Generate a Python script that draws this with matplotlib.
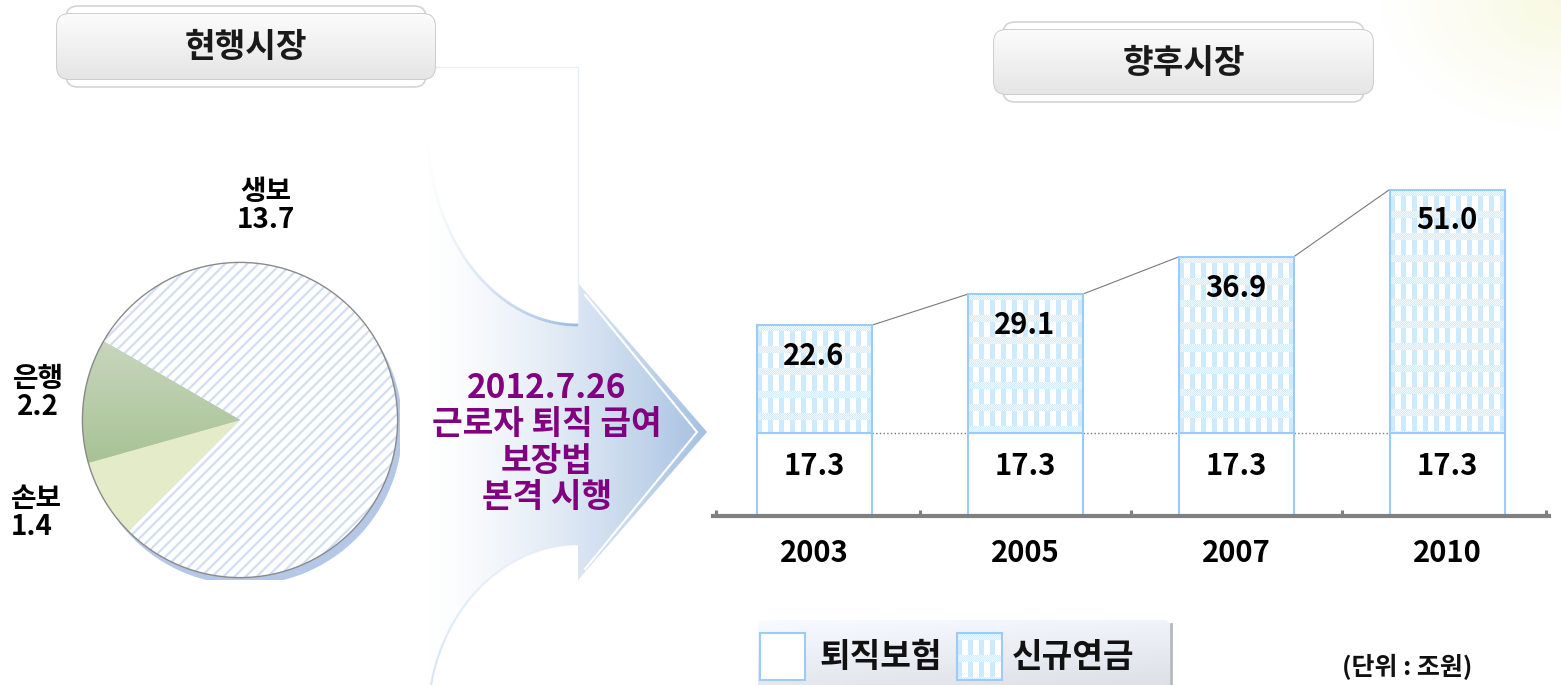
import numpy as np
import matplotlib
matplotlib.use('Agg')
import matplotlib.pyplot as plt
from matplotlib.patches import Circle, Rectangle, FancyBboxPatch, PathPatch
from matplotlib.path import Path
from matplotlib.collections import LineCollection

plt.rcParams['font.family'] = ['Noto Sans CJK KR', 'DejaVu Sans']
plt.rcParams['font.weight'] = 'bold'
plt.rcParams['hatch.color'] = '#d2def2'
plt.rcParams['hatch.linewidth'] = 1.6

# 현행시장 (조원)
pie_labels = ['생보', '은행', '손보']
pie_values = [13.7, 2.2, 1.4]

# 향후시장 (조원)
years = ['2003', '2005', '2007', '2010']
retire_ins = [17.3, 17.3, 17.3, 17.3]      # 퇴직보험
new_pension = [22.6, 29.1, 36.9, 51.0]     # 신규연금

legend_labels = ['퇴직보험', '신규연금']
law_text = ['2012.7.26', '근로자 퇴직 급여', '보장법', '본격 시행']

W, H = 1561, 685
BLUE_EDGE = '#9ccbf8'


def gingham(h, w):
    # 체크무늬 (세로 줄 + 가로 띠)
    yy, xx = np.mgrid[0:h, 0:w]
    stripe = (xx % 11) < 5
    band = (yy % 22) < 7
    fine = (xx + yy) % 2 == 0
    v = np.where(band, np.where(fine, 0.85, 0.25), stripe * 0.95)
    blue = np.array([0.80, 0.915, 0.995])
    return 1 - v[..., None] * (1 - blue)


fig = plt.figure(figsize=(W / 100, H / 100), dpi=100)

# ---- background layer, pixel coordinates
bg = fig.add_axes([0, 0, 1, 1])
bg.axis('off')

# faint glow, top right
yy, xx = np.mgrid[0:130, 0:181]
d = np.hypot((180 - xx) / 181, yy / 130)
glow = np.zeros((130, 181, 4))
glow[..., :3] = [0.97, 0.97, 0.86]
glow[..., 3] = np.clip(1 - d, 0, 1) * 0.8
bg.imshow(glow, extent=(1380, 1561, 130, 0), zorder=0)


def title_box(x0, x1, y0, y1, text):
    back = FancyBboxPatch((x0 + 9, y0 - 8), x1 - x0 - 18, y1 - y0 + 16,
                          boxstyle='round,pad=0,rounding_size=12',
                          fc='white', ec='#d4d4d4', lw=1.2, zorder=1)
    bg.add_patch(back)
    front = FancyBboxPatch((x0, y0), x1 - x0, y1 - y0,
                           boxstyle='round,pad=0,rounding_size=12',
                           fc='#eeeeee', ec='#c4c4c4', lw=1.2, zorder=2)
    bg.add_patch(front)
    g = np.linspace(0.985, 0.9, 50)[:, None, None] * np.ones((50, 2, 3))
    im = bg.imshow(g, extent=(x0, x1, y1, y0), aspect='auto', zorder=2.5)
    im.set_clip_path(front)
    bg.text((x0 + x1) / 2, (y0 + y1) / 2 + 1, text, ha='center', va='center',
            fontsize=24, fontweight='bold', color='#1a1a1a', zorder=3)


title_box(57, 435, 14, 79, '현행시장')
title_box(994, 1373, 30, 94, '향후시장')

# big arrow in the middle
t = np.linspace(0, np.pi / 2, 80)
top_curve = np.column_stack([578 - 150 * np.cos(t), 130 + 195 * np.sin(t)])
bot_curve = np.column_stack([578 - 150 * np.sin(t), 720 - 175 * np.cos(t)])
head = np.array([[578, 283], [707, 432], [578, 580]])
verts = np.vstack([top_curve, head, bot_curve, [[428, 130]]])
codes = [Path.MOVETO] + [Path.LINETO] * (len(verts) - 2) + [Path.CLOSEPOLY]
arrow = PathPatch(Path(verts, codes), fc='none', ec='none', zorder=1)
bg.add_patch(arrow)
gx = np.linspace(0, 1, 300) ** 1.5
c0 = np.array([1.0, 1.0, 1.0])
c1 = np.array([0.64, 0.75, 0.88])
grad = (c0 * (1 - gx[:, None]) + c1 * gx[:, None])[None, :, :]
im = bg.imshow(grad, extent=(420, 710, 730, 100), aspect='auto', zorder=1)
im.set_clip_path(arrow)

segs = np.stack([top_curve[:-1], top_curve[1:]], axis=1)
alphas = np.linspace(0, 1, len(segs)) ** 2
cols = [(0.60, 0.73, 0.88, a) for a in alphas]
bg.add_collection(LineCollection(segs, colors=cols, linewidths=2, zorder=1.5))
segs = np.stack([bot_curve[:-1], bot_curve[1:]], axis=1)
alphas = np.linspace(0.1, 0.9, len(segs))
cols = [(0.80, 0.87, 0.95, a) for a in alphas]
bg.add_collection(LineCollection(segs, colors=cols, linewidths=1.5, zorder=1.5))
bg.plot([430, 578, 578], [67, 67, 322], color='#e8eef7', lw=1, zorder=1.5)
bg.plot([585, 697, 585], [295, 432, 569], color='white', lw=1.5, zorder=1.6)
bg.text(547, 443, '\n'.join(law_text), ha='center', va='center',
        fontsize=24, fontweight='bold', color='#800080', linespacing=1.12,
        zorder=3)

# legend
leg_box = FancyBboxPatch((758, 620), 412, 80, boxstyle='round,pad=0,rounding_size=6',
                         fc='none', ec='none', zorder=1)
bg.add_patch(leg_box)
lg = np.linspace(0.97, 0.89, 60)[:, None] * np.ones((60, 100))
lg = lg - np.linspace(0, 0.03, 100)[None, :]
lg_rgb = np.stack([lg, lg + 0.015, lg + 0.04], axis=-1).clip(0, 1)
im = bg.imshow(lg_rgb, extent=(758, 1170, 690, 620), aspect='auto', zorder=1)
im.set_clip_path(leg_box)
bg.plot([1171, 1171], [624, 685], color='#b8b8b8', lw=2, zorder=1.2)
bg.add_patch(Rectangle((760, 633), 45, 47, fc='white', ec=BLUE_EDGE, lw=1.5, zorder=2))
bg.imshow(gingham(47, 45), extent=(957, 1002, 680, 633), interpolation='nearest', zorder=2)
bg.add_patch(Rectangle((957, 633), 45, 47, fc='none', ec=BLUE_EDGE, lw=1.5, zorder=2.5))
bg.text(820, 658, legend_labels[0], ha='left', va='center', fontsize=24,
        fontweight='bold', color='#111111', zorder=3)
bg.text(1012, 658, legend_labels[1], ha='left', va='center', fontsize=24,
        fontweight='bold', color='#111111', zorder=3)
bg.text(1407, 667, '(단위 : 조원)', ha='center', va='center', fontsize=18,
        fontweight='bold', color='#111111', zorder=3)

# pie labels
bg.text(266, 206, f'{pie_labels[0]}\n{pie_values[0]}', ha='center', va='center',
        fontsize=20, fontweight='bold', linespacing=1.0, zorder=3)
bg.text(38, 393, f'{pie_labels[1]}\n{pie_values[1]}', ha='center', va='center',
        fontsize=20, fontweight='bold', linespacing=1.0, zorder=3)
bg.text(11, 513, f'{pie_labels[2]}\n{pie_values[2]}', ha='left', va='center',
        fontsize=20, fontweight='bold', linespacing=1.0, zorder=3)

bg.set_xlim(0, W)
bg.set_ylim(H, 0)

# ---- pie
cx, cy, r = 240, 420, 160
pax = fig.add_axes([(cx - r) / W, (H - cy - r) / H, 2 * r / W, 2 * r / H])
pax.patch.set_alpha(0)
pax.add_patch(Circle((0.03, -0.045), 0.985, fc='#b4c7e7', ec='none', zorder=0))
start = 150 - 360 * pie_values[0] / sum(pie_values)
wedges, _ = pax.pie(pie_values, startangle=start, radius=0.985,
                    colors=['white', '#b7cca5', '#e3ebc8'],
                    wedgeprops=dict(linewidth=0))
wedges[0].set_hatch('///')
for w in wedges:
    w.set_zorder(1)
ggrad = np.linspace(0, 1, 80)
gimg = np.array([0.80, 0.85, 0.76]) * (1 - ggrad[:, None]) + np.array([0.62, 0.74, 0.54]) * ggrad[:, None]
gim = pax.imshow(gimg[:, None, :] * np.ones((80, 80, 3)), extent=(-1, 0, -0.5, 0.6),
                 aspect='auto', zorder=1.2)
gim.set_clip_path(wedges[1])
pax.add_patch(Circle((0, 0), 0.985, fc='none', ec='#8a8a8a', lw=1, zorder=2))
pax.set_xlim(-1, 1)
pax.set_ylim(-1, 1)
pax.axis('off')

# ---- stacked bars
bx = fig.add_axes([713 / W, (H - 516) / H, 836 / W, 340 / H])
bx.patch.set_alpha(0)
x = np.arange(len(years))
bw = 0.545
bx.set_xlim(-0.479, 3.483)
bx.set_ylim(0, 340 / 4.78)
totals = [a + b for a, b in zip(retire_ins, new_pension)]

low = bx.bar(x, retire_ins, bw, color='white', edgecolor=BLUE_EDGE, lw=1.5, zorder=2)
high = bx.bar(x, new_pension, bw, bottom=retire_ins, color='none',
              edgecolor=BLUE_EDGE, lw=1.5, zorder=3)
for rect in high:
    x0, y0 = rect.get_x(), rect.get_y()
    x1, y1 = x0 + rect.get_width(), y0 + rect.get_height()
    p0 = bx.transData.transform((x0, y0))
    p1 = bx.transData.transform((x1, y1))
    pw, ph = int(round(p1[0] - p0[0])), int(round(p1[1] - p0[1]))
    bx.imshow(gingham(ph, pw), extent=(x0, x1, y0, y1), aspect='auto',
              interpolation='nearest', zorder=2.5)

for i in range(len(x) - 1):
    bx.plot([x[i] + bw / 2, x[i + 1] - bw / 2], [totals[i], totals[i + 1]],
            color='#7a7a7a', lw=0.8, zorder=1)
    bx.plot([x[i] + bw / 2, x[i + 1] - bw / 2], [retire_ins[i], retire_ins[i + 1]],
            color='#7a7a7a', lw=1, ls=':', zorder=1)

for i in range(len(x)):
    bx.text(x[i], retire_ins[i] - 6.8, f'{retire_ins[i]:.1f}', ha='center', va='center',
            fontsize=21, fontweight='bold', zorder=4)
    bx.text(x[i], totals[i] - 6.4, f'{new_pension[i]:.1f}', ha='center', va='center',
            fontsize=21, fontweight='bold', zorder=4)

bx.set_xlim(-0.479, 3.483)
bx.set_ylim(0, 340 / 4.78)
for s in ['top', 'right', 'left']:
    bx.spines[s].set_visible(False)
bx.spines['bottom'].set_linewidth(3)
bx.spines['bottom'].set_color('#808080')
bx.set_yticks([])
bx.set_xticks(x)
bx.set_xticklabels(years, fontsize=21, fontweight='bold')
bx.set_xticks([-0.465, 0.5, 1.5, 2.5, 3.47], minor=True)
bx.tick_params(axis='x', which='major', length=0, pad=16)
bx.tick_params(axis='x', which='minor', direction='in', length=4.5, width=2.2,
               color='#808080')

fig.savefig('out.png', dpi=100)
